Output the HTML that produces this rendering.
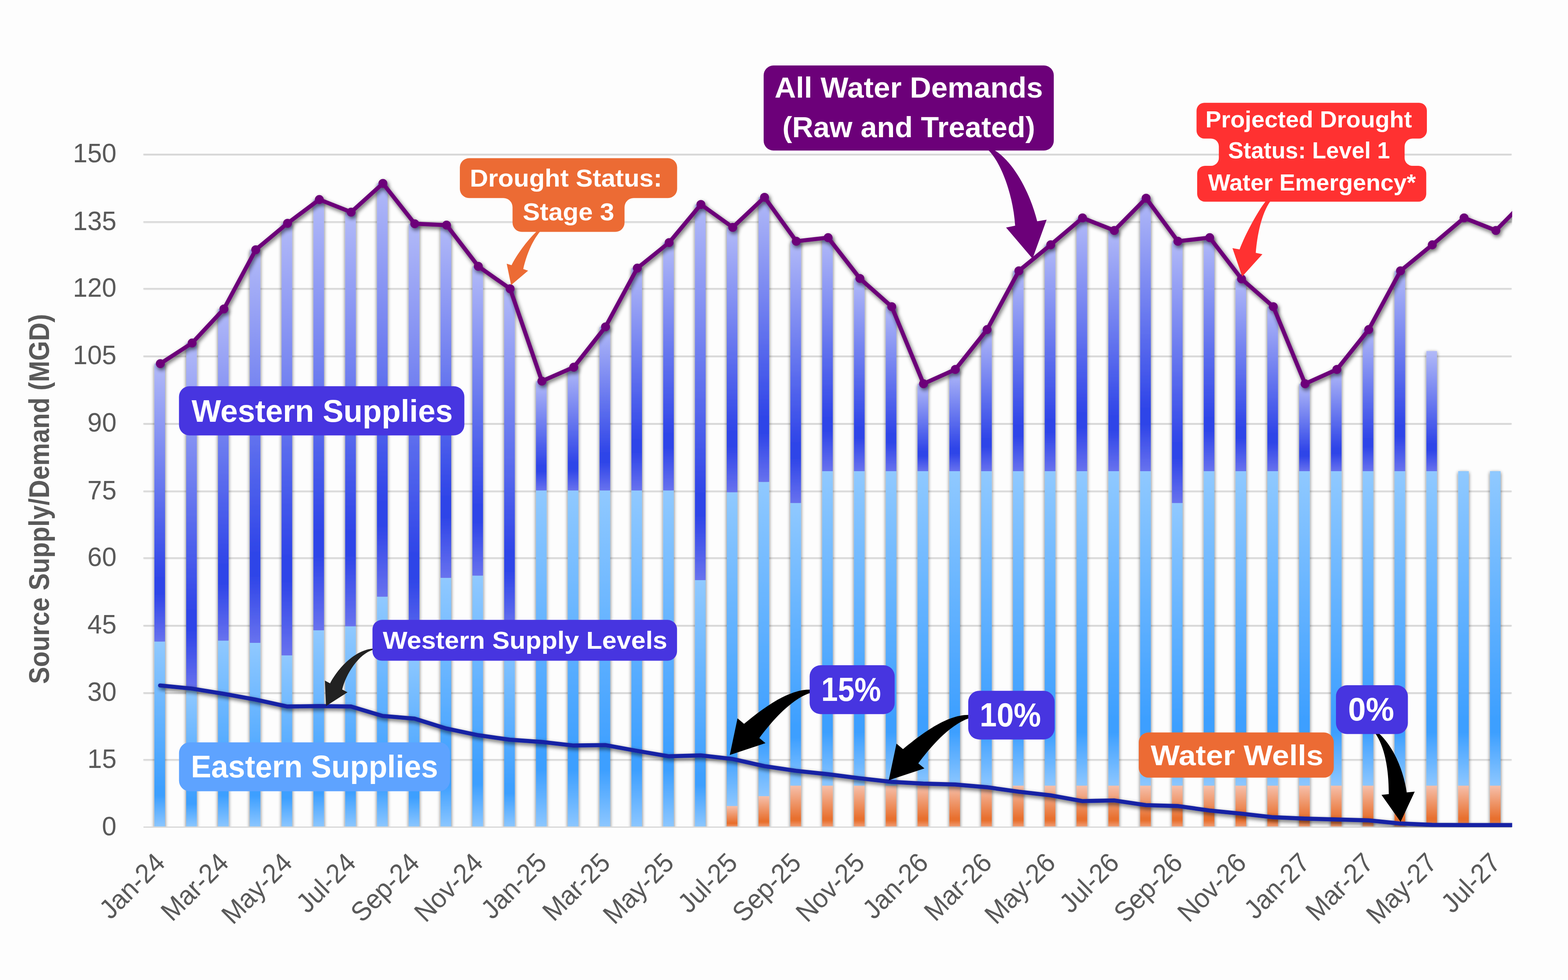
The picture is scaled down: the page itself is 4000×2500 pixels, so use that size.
<!DOCTYPE html>
<html lang="en"><head><meta charset="utf-8"><title>Source Supply/Demand (MGD)</title>
<style>html,body{margin:0;padding:0;background:#fdfdfd;}body{width:4000px;height:2500px;overflow:hidden;}svg{display:block;}text{font-family:"Liberation Sans",sans-serif;}.tk{font-size:66.67px;fill:#595959;}.lb{font-weight:bold;fill:#fff;}</style></head><body>
<svg xmlns="http://www.w3.org/2000/svg" width="4000" height="2500" viewBox="0 0 4000 2500">
<defs>
<linearGradient id="gw" x1="0" y1="0" x2="0" y2="1"><stop offset="0" stop-color="#b2baf8"/><stop offset="0.77" stop-color="#2f45e8"/><stop offset="0.83" stop-color="#2f45e8"/><stop offset="1" stop-color="#6872ee"/></linearGradient>
<linearGradient id="ge" x1="0" y1="0" x2="0" y2="1"><stop offset="0" stop-color="#90c9ff"/><stop offset="0.79" stop-color="#3d9fff"/><stop offset="0.83" stop-color="#3d9fff"/><stop offset="1" stop-color="#8dc7ff"/></linearGradient>
<linearGradient id="go" x1="0" y1="0" x2="0" y2="1"><stop offset="0" stop-color="#f6c0ab"/><stop offset="0.78" stop-color="#e8702f"/><stop offset="0.84" stop-color="#e8702f"/><stop offset="1" stop-color="#f0a07a"/></linearGradient>
<filter id="sb" x="-2%" y="-2%" width="104%" height="104%" filterUnits="objectBoundingBox"><feGaussianBlur in="SourceAlpha" stdDeviation="5"/><feOffset dx="0.2" dy="3"/><feComponentTransfer><feFuncA type="linear" slope="0.58"/></feComponentTransfer><feMerge><feMergeNode/><feMergeNode in="SourceGraphic"/></feMerge></filter>
<filter id="sl" x="-2%" y="-5%" width="104%" height="110%" filterUnits="objectBoundingBox"><feGaussianBlur in="SourceAlpha" stdDeviation="5.2"/><feOffset dx="2.5" dy="5"/><feComponentTransfer><feFuncA type="linear" slope="0.62"/></feComponentTransfer><feMerge><feMergeNode/><feMergeNode in="SourceGraphic"/></feMerge></filter>
<filter id="sg" x="-1%" y="-1%" width="102%" height="102%" filterUnits="objectBoundingBox"><feGaussianBlur in="SourceAlpha" stdDeviation="1"/><feOffset dx="0" dy="0.6"/><feComponentTransfer><feFuncA type="linear" slope="0.25"/></feComponentTransfer><feMerge><feMergeNode/><feMergeNode in="SourceGraphic"/></feMerge></filter>
<clipPath id="cp"><rect x="326" y="0" width="3531.6" height="2110.6"/></clipPath>
<clipPath id="cb"><rect x="300" y="0" width="3700" height="2108.7"/></clipPath>
</defs>
<rect width="4000" height="2500" fill="#fdfdfd"/>
<g stroke="#d7d7d7" stroke-width="2.8" filter="url(#sg)">
<line x1="366" y1="1937.9" x2="3856" y2="1937.9"/>
<line x1="366" y1="1767.4" x2="3856" y2="1767.4"/>
<line x1="366" y1="1595.6" x2="3856" y2="1595.6"/>
<line x1="366" y1="1423.1" x2="3856" y2="1423.1"/>
<line x1="366" y1="1252.8" x2="3856" y2="1252.8"/>
<line x1="366" y1="1080.6" x2="3856" y2="1080.6"/>
<line x1="366" y1="908.4" x2="3856" y2="908.4"/>
<line x1="366" y1="736.2" x2="3856" y2="736.2"/>
<line x1="366" y1="565.8" x2="3856" y2="565.8"/>
<line x1="366" y1="393.6" x2="3856" y2="393.6"/>
</g>
<g class="tk" text-anchor="end">
<text transform="translate(297.2 2130.7) scale(1 1.04)">0</text>
<text transform="translate(297.2 1958.7) scale(1 1.04)">15</text>
<text transform="translate(297.2 1788.2) scale(1 1.04)">30</text>
<text transform="translate(297.2 1616.4) scale(1 1.04)">45</text>
<text transform="translate(297.2 1443.9) scale(1 1.04)">60</text>
<text transform="translate(297.2 1273.6) scale(1 1.04)">75</text>
<text transform="translate(297.2 1101.4) scale(1 1.04)">90</text>
<text transform="translate(297.2 929.2) scale(1 1.04)">105</text>
<text transform="translate(297.2 757.0) scale(1 1.04)">120</text>
<text transform="translate(297.2 586.6) scale(1 1.04)">135</text>
<text transform="translate(297.2 414.4) scale(1 1.04)">150</text>
</g>
<text transform="translate(125.4 1744.8) rotate(-90) scale(0.9065 1)" font-size="71.8" font-weight="bold" fill="#595959" >Source Supply/Demand (MGD)</text>
<g clip-path="url(#cb)"><g filter="url(#sb)">
<rect x="393.9" y="2109.6" width="27.1" height="30" fill="#8dc7ff"/>
<rect x="393.9" y="1636.5" width="27.1" height="473.6" fill="url(#ge)"/>
<rect x="393.9" y="927.6" width="27.1" height="709.0" fill="url(#gw)"/>
<rect x="475.0" y="2109.6" width="27.1" height="30" fill="#8dc7ff"/>
<rect x="475.0" y="1760.0" width="27.1" height="350.1" fill="url(#ge)"/>
<rect x="475.0" y="875.0" width="27.1" height="885.1" fill="url(#gw)"/>
<rect x="556.1" y="2109.6" width="27.1" height="30" fill="#8dc7ff"/>
<rect x="556.1" y="1634.2" width="27.1" height="475.9" fill="url(#ge)"/>
<rect x="556.1" y="788.1" width="27.1" height="846.2" fill="url(#gw)"/>
<rect x="637.2" y="2109.6" width="27.1" height="30" fill="#8dc7ff"/>
<rect x="637.2" y="1640.0" width="27.1" height="470.1" fill="url(#ge)"/>
<rect x="637.2" y="637.1" width="27.1" height="1002.8" fill="url(#gw)"/>
<rect x="718.3" y="2109.6" width="27.1" height="30" fill="#8dc7ff"/>
<rect x="718.3" y="1672.0" width="27.1" height="438.1" fill="url(#ge)"/>
<rect x="718.3" y="569.6" width="27.1" height="1102.3" fill="url(#gw)"/>
<rect x="799.5" y="2109.6" width="27.1" height="30" fill="#8dc7ff"/>
<rect x="799.5" y="1607.9" width="27.1" height="502.2" fill="url(#ge)"/>
<rect x="799.5" y="509.0" width="27.1" height="1098.9" fill="url(#gw)"/>
<rect x="880.6" y="2109.6" width="27.1" height="30" fill="#8dc7ff"/>
<rect x="880.6" y="1597.7" width="27.1" height="512.4" fill="url(#ge)"/>
<rect x="880.6" y="541.1" width="27.1" height="1056.6" fill="url(#gw)"/>
<rect x="961.7" y="2109.6" width="27.1" height="30" fill="#8dc7ff"/>
<rect x="961.7" y="1522.2" width="27.1" height="587.9" fill="url(#ge)"/>
<rect x="961.7" y="467.9" width="27.1" height="1054.3" fill="url(#gw)"/>
<rect x="1042.8" y="2109.6" width="27.1" height="30" fill="#8dc7ff"/>
<rect x="1042.8" y="1662.8" width="27.1" height="447.3" fill="url(#ge)"/>
<rect x="1042.8" y="570.8" width="27.1" height="1092.0" fill="url(#gw)"/>
<rect x="1123.9" y="2109.6" width="27.1" height="30" fill="#8dc7ff"/>
<rect x="1123.9" y="1474.2" width="27.1" height="635.9" fill="url(#ge)"/>
<rect x="1123.9" y="574.2" width="27.1" height="899.9" fill="url(#gw)"/>
<rect x="1205.1" y="2109.6" width="27.1" height="30" fill="#8dc7ff"/>
<rect x="1205.1" y="1468.4" width="27.1" height="641.7" fill="url(#ge)"/>
<rect x="1205.1" y="679.4" width="27.1" height="789.0" fill="url(#gw)"/>
<rect x="1286.2" y="2109.6" width="27.1" height="30" fill="#8dc7ff"/>
<rect x="1286.2" y="1605.7" width="27.1" height="504.4" fill="url(#ge)"/>
<rect x="1286.2" y="736.6" width="27.1" height="869.1" fill="url(#gw)"/>
<rect x="1367.3" y="2109.6" width="27.1" height="30" fill="#8dc7ff"/>
<rect x="1367.3" y="1251.2" width="27.1" height="858.9" fill="url(#ge)"/>
<rect x="1367.3" y="972.2" width="27.1" height="279.0" fill="url(#gw)"/>
<rect x="1448.4" y="2109.6" width="27.1" height="30" fill="#8dc7ff"/>
<rect x="1448.4" y="1251.2" width="27.1" height="858.9" fill="url(#ge)"/>
<rect x="1448.4" y="936.7" width="27.1" height="314.5" fill="url(#gw)"/>
<rect x="1529.5" y="2109.6" width="27.1" height="30" fill="#8dc7ff"/>
<rect x="1529.5" y="1251.2" width="27.1" height="858.9" fill="url(#ge)"/>
<rect x="1529.5" y="833.8" width="27.1" height="417.4" fill="url(#gw)"/>
<rect x="1610.7" y="2109.6" width="27.1" height="30" fill="#8dc7ff"/>
<rect x="1610.7" y="1251.2" width="27.1" height="858.9" fill="url(#ge)"/>
<rect x="1610.7" y="684.0" width="27.1" height="567.2" fill="url(#gw)"/>
<rect x="1691.8" y="2109.6" width="27.1" height="30" fill="#8dc7ff"/>
<rect x="1691.8" y="1251.2" width="27.1" height="858.9" fill="url(#ge)"/>
<rect x="1691.8" y="618.8" width="27.1" height="632.4" fill="url(#gw)"/>
<rect x="1772.9" y="2109.6" width="27.1" height="30" fill="#8dc7ff"/>
<rect x="1772.9" y="1479.9" width="27.1" height="630.2" fill="url(#ge)"/>
<rect x="1772.9" y="521.6" width="27.1" height="958.3" fill="url(#gw)"/>
<rect x="1854.0" y="2109.6" width="27.1" height="30" fill="#f0a07a"/>
<rect x="1854.0" y="2056.2" width="27.1" height="53.9" fill="url(#go)"/>
<rect x="1854.0" y="1255.7" width="27.1" height="800.4" fill="url(#ge)"/>
<rect x="1854.0" y="579.9" width="27.1" height="675.8" fill="url(#gw)"/>
<rect x="1935.1" y="2109.6" width="27.1" height="30" fill="#f0a07a"/>
<rect x="1935.1" y="2031.0" width="27.1" height="79.1" fill="url(#go)"/>
<rect x="1935.1" y="1229.4" width="27.1" height="801.6" fill="url(#ge)"/>
<rect x="1935.1" y="503.3" width="27.1" height="726.1" fill="url(#gw)"/>
<rect x="2016.3" y="2109.6" width="27.1" height="30" fill="#f0a07a"/>
<rect x="2016.3" y="2004.2" width="27.1" height="105.9" fill="url(#go)"/>
<rect x="2016.3" y="1283.2" width="27.1" height="721.0" fill="url(#ge)"/>
<rect x="2016.3" y="615.4" width="27.1" height="667.8" fill="url(#gw)"/>
<rect x="2097.4" y="2109.6" width="27.1" height="30" fill="#f0a07a"/>
<rect x="2097.4" y="2004.2" width="27.1" height="105.9" fill="url(#go)"/>
<rect x="2097.4" y="1202.0" width="27.1" height="802.2" fill="url(#ge)"/>
<rect x="2097.4" y="606.2" width="27.1" height="595.8" fill="url(#gw)"/>
<rect x="2178.5" y="2109.6" width="27.1" height="30" fill="#f0a07a"/>
<rect x="2178.5" y="2004.2" width="27.1" height="105.9" fill="url(#go)"/>
<rect x="2178.5" y="1202.0" width="27.1" height="802.2" fill="url(#ge)"/>
<rect x="2178.5" y="710.3" width="27.1" height="491.7" fill="url(#gw)"/>
<rect x="2259.6" y="2109.6" width="27.1" height="30" fill="#f0a07a"/>
<rect x="2259.6" y="2004.2" width="27.1" height="105.9" fill="url(#go)"/>
<rect x="2259.6" y="1202.0" width="27.1" height="802.2" fill="url(#ge)"/>
<rect x="2259.6" y="782.3" width="27.1" height="419.7" fill="url(#gw)"/>
<rect x="2340.7" y="2109.6" width="27.1" height="30" fill="#f0a07a"/>
<rect x="2340.7" y="2004.2" width="27.1" height="105.9" fill="url(#go)"/>
<rect x="2340.7" y="1202.0" width="27.1" height="802.2" fill="url(#ge)"/>
<rect x="2340.7" y="979.0" width="27.1" height="223.0" fill="url(#gw)"/>
<rect x="2421.9" y="2109.6" width="27.1" height="30" fill="#f0a07a"/>
<rect x="2421.9" y="2004.2" width="27.1" height="105.9" fill="url(#go)"/>
<rect x="2421.9" y="1202.0" width="27.1" height="802.2" fill="url(#ge)"/>
<rect x="2421.9" y="942.4" width="27.1" height="259.6" fill="url(#gw)"/>
<rect x="2503.0" y="2109.6" width="27.1" height="30" fill="#f0a07a"/>
<rect x="2503.0" y="2004.2" width="27.1" height="105.9" fill="url(#go)"/>
<rect x="2503.0" y="1202.0" width="27.1" height="802.2" fill="url(#ge)"/>
<rect x="2503.0" y="840.7" width="27.1" height="361.3" fill="url(#gw)"/>
<rect x="2584.1" y="2109.6" width="27.1" height="30" fill="#f0a07a"/>
<rect x="2584.1" y="2004.2" width="27.1" height="105.9" fill="url(#go)"/>
<rect x="2584.1" y="1202.0" width="27.1" height="802.2" fill="url(#ge)"/>
<rect x="2584.1" y="690.9" width="27.1" height="511.1" fill="url(#gw)"/>
<rect x="2665.2" y="2109.6" width="27.1" height="30" fill="#f0a07a"/>
<rect x="2665.2" y="2004.2" width="27.1" height="105.9" fill="url(#go)"/>
<rect x="2665.2" y="1202.0" width="27.1" height="802.2" fill="url(#ge)"/>
<rect x="2665.2" y="624.5" width="27.1" height="577.5" fill="url(#gw)"/>
<rect x="2746.3" y="2109.6" width="27.1" height="30" fill="#f0a07a"/>
<rect x="2746.3" y="2004.2" width="27.1" height="105.9" fill="url(#go)"/>
<rect x="2746.3" y="1202.0" width="27.1" height="802.2" fill="url(#ge)"/>
<rect x="2746.3" y="555.9" width="27.1" height="646.1" fill="url(#gw)"/>
<rect x="2827.5" y="2109.6" width="27.1" height="30" fill="#f0a07a"/>
<rect x="2827.5" y="2004.2" width="27.1" height="105.9" fill="url(#go)"/>
<rect x="2827.5" y="1202.0" width="27.1" height="802.2" fill="url(#ge)"/>
<rect x="2827.5" y="587.9" width="27.1" height="614.1" fill="url(#gw)"/>
<rect x="2908.6" y="2109.6" width="27.1" height="30" fill="#f0a07a"/>
<rect x="2908.6" y="2004.2" width="27.1" height="105.9" fill="url(#go)"/>
<rect x="2908.6" y="1202.0" width="27.1" height="802.2" fill="url(#ge)"/>
<rect x="2908.6" y="505.6" width="27.1" height="696.4" fill="url(#gw)"/>
<rect x="2989.7" y="2109.6" width="27.1" height="30" fill="#f0a07a"/>
<rect x="2989.7" y="2004.2" width="27.1" height="105.9" fill="url(#go)"/>
<rect x="2989.7" y="1283.2" width="27.1" height="721.0" fill="url(#ge)"/>
<rect x="2989.7" y="615.4" width="27.1" height="667.8" fill="url(#gw)"/>
<rect x="3070.8" y="2109.6" width="27.1" height="30" fill="#f0a07a"/>
<rect x="3070.8" y="2004.2" width="27.1" height="105.9" fill="url(#go)"/>
<rect x="3070.8" y="1202.0" width="27.1" height="802.2" fill="url(#ge)"/>
<rect x="3070.8" y="606.2" width="27.1" height="595.8" fill="url(#gw)"/>
<rect x="3151.9" y="2109.6" width="27.1" height="30" fill="#f0a07a"/>
<rect x="3151.9" y="2004.2" width="27.1" height="105.9" fill="url(#go)"/>
<rect x="3151.9" y="1202.0" width="27.1" height="802.2" fill="url(#ge)"/>
<rect x="3151.9" y="711.4" width="27.1" height="490.6" fill="url(#gw)"/>
<rect x="3233.1" y="2109.6" width="27.1" height="30" fill="#f0a07a"/>
<rect x="3233.1" y="2004.2" width="27.1" height="105.9" fill="url(#go)"/>
<rect x="3233.1" y="1202.0" width="27.1" height="802.2" fill="url(#ge)"/>
<rect x="3233.1" y="782.3" width="27.1" height="419.7" fill="url(#gw)"/>
<rect x="3314.2" y="2109.6" width="27.1" height="30" fill="#f0a07a"/>
<rect x="3314.2" y="2004.2" width="27.1" height="105.9" fill="url(#go)"/>
<rect x="3314.2" y="1202.0" width="27.1" height="802.2" fill="url(#ge)"/>
<rect x="3314.2" y="979.0" width="27.1" height="223.0" fill="url(#gw)"/>
<rect x="3395.3" y="2109.6" width="27.1" height="30" fill="#f0a07a"/>
<rect x="3395.3" y="2004.2" width="27.1" height="105.9" fill="url(#go)"/>
<rect x="3395.3" y="1202.0" width="27.1" height="802.2" fill="url(#ge)"/>
<rect x="3395.3" y="942.4" width="27.1" height="259.6" fill="url(#gw)"/>
<rect x="3476.4" y="2109.6" width="27.1" height="30" fill="#f0a07a"/>
<rect x="3476.4" y="2004.2" width="27.1" height="105.9" fill="url(#go)"/>
<rect x="3476.4" y="1202.0" width="27.1" height="802.2" fill="url(#ge)"/>
<rect x="3476.4" y="840.7" width="27.1" height="361.3" fill="url(#gw)"/>
<rect x="3557.5" y="2109.6" width="27.1" height="30" fill="#f0a07a"/>
<rect x="3557.5" y="2004.2" width="27.1" height="105.9" fill="url(#go)"/>
<rect x="3557.5" y="1202.0" width="27.1" height="802.2" fill="url(#ge)"/>
<rect x="3557.5" y="690.9" width="27.1" height="511.1" fill="url(#gw)"/>
<rect x="3638.7" y="2109.6" width="27.1" height="30" fill="#f0a07a"/>
<rect x="3638.7" y="2004.2" width="27.1" height="105.9" fill="url(#go)"/>
<rect x="3638.7" y="1202.0" width="27.1" height="802.2" fill="url(#ge)"/>
<rect x="3638.7" y="895.5" width="27.1" height="306.5" fill="url(#gw)"/>
<rect x="3719.8" y="2109.6" width="27.1" height="30" fill="#f0a07a"/>
<rect x="3719.8" y="2004.2" width="27.1" height="105.9" fill="url(#go)"/>
<rect x="3719.8" y="1202.0" width="27.1" height="802.2" fill="url(#ge)"/>
<rect x="3800.9" y="2109.6" width="27.1" height="30" fill="#f0a07a"/>
<rect x="3800.9" y="2004.2" width="27.1" height="105.9" fill="url(#go)"/>
<rect x="3800.9" y="1202.0" width="27.1" height="802.2" fill="url(#ge)"/>
</g></g>
<line x1="366" y1="2110.1" x2="3856" y2="2110.1" stroke="#d6d6d6" stroke-width="3"/>
<g class="tk" text-anchor="end">
<text transform="translate(425.0 2205.4) rotate(-45) scale(0.99 1.04)">Jan-24</text>
<text transform="translate(587.2 2205.4) rotate(-45) scale(0.99 1.04)">Mar-24</text>
<text transform="translate(749.5 2205.4) rotate(-45) scale(0.99 1.04)">May-24</text>
<text transform="translate(911.7 2205.4) rotate(-45) scale(0.99 1.04)">Jul-24</text>
<text transform="translate(1074.0 2205.4) rotate(-45) scale(0.99 1.04)">Sep-24</text>
<text transform="translate(1236.2 2205.4) rotate(-45) scale(0.99 1.04)">Nov-24</text>
<text transform="translate(1398.4 2205.4) rotate(-45) scale(0.99 1.04)">Jan-25</text>
<text transform="translate(1560.7 2205.4) rotate(-45) scale(0.99 1.04)">Mar-25</text>
<text transform="translate(1722.9 2205.4) rotate(-45) scale(0.99 1.04)">May-25</text>
<text transform="translate(1885.2 2205.4) rotate(-45) scale(0.99 1.04)">Jul-25</text>
<text transform="translate(2047.4 2205.4) rotate(-45) scale(0.99 1.04)">Sep-25</text>
<text transform="translate(2209.6 2205.4) rotate(-45) scale(0.99 1.04)">Nov-25</text>
<text transform="translate(2371.9 2205.4) rotate(-45) scale(0.99 1.04)">Jan-26</text>
<text transform="translate(2534.1 2205.4) rotate(-45) scale(0.99 1.04)">Mar-26</text>
<text transform="translate(2696.4 2205.4) rotate(-45) scale(0.99 1.04)">May-26</text>
<text transform="translate(2858.6 2205.4) rotate(-45) scale(0.99 1.04)">Jul-26</text>
<text transform="translate(3020.8 2205.4) rotate(-45) scale(0.99 1.04)">Sep-26</text>
<text transform="translate(3183.1 2205.4) rotate(-45) scale(0.99 1.04)">Nov-26</text>
<text transform="translate(3345.3 2205.4) rotate(-45) scale(0.99 1.04)">Jan-27</text>
<text transform="translate(3507.6 2205.4) rotate(-45) scale(0.99 1.04)">Mar-27</text>
<text transform="translate(3669.8 2205.4) rotate(-45) scale(0.99 1.04)">May-27</text>
<text transform="translate(3832.0 2205.4) rotate(-45) scale(0.99 1.04)">Jul-27</text>
</g>
<g clip-path="url(#cp)"><g filter="url(#sl)">
<polyline points="409.0,927.6 490.1,875.0 571.2,788.1 652.4,637.1 733.5,569.6 814.6,509.0 895.7,541.1 976.8,467.9 1058.0,570.8 1139.1,574.2 1220.2,679.4 1301.3,736.6 1382.4,972.2 1463.6,936.7 1544.7,833.8 1625.8,684.0 1706.9,618.8 1788.0,521.6 1869.2,579.9 1950.3,503.3 2031.4,615.4 2112.5,606.2 2193.6,710.3 2274.8,782.3 2355.9,979.0 2437.0,942.4 2518.1,840.7 2599.2,690.9 2680.4,624.5 2761.5,555.9 2842.6,587.9 2923.7,505.6 3004.8,615.4 3086.0,606.2 3167.1,711.4 3248.2,782.3 3329.3,979.0 3410.4,942.4 3491.6,840.7 3572.7,690.9 3653.8,624.5 3734.9,555.9 3816.0,587.9 3897.2,505.6" fill="none" stroke="#6c0079" stroke-width="10.4" stroke-linejoin="round" stroke-linecap="round"/>
<g fill="#6c0079">
<circle cx="409.0" cy="927.6" r="11.4"/>
<circle cx="490.1" cy="875.0" r="11.4"/>
<circle cx="571.2" cy="788.1" r="11.4"/>
<circle cx="652.4" cy="637.1" r="11.4"/>
<circle cx="733.5" cy="569.6" r="11.4"/>
<circle cx="814.6" cy="509.0" r="11.4"/>
<circle cx="895.7" cy="541.1" r="11.4"/>
<circle cx="976.8" cy="467.9" r="11.4"/>
<circle cx="1058.0" cy="570.8" r="11.4"/>
<circle cx="1139.1" cy="574.2" r="11.4"/>
<circle cx="1220.2" cy="679.4" r="11.4"/>
<circle cx="1301.3" cy="736.6" r="11.4"/>
<circle cx="1382.4" cy="972.2" r="11.4"/>
<circle cx="1463.6" cy="936.7" r="11.4"/>
<circle cx="1544.7" cy="833.8" r="11.4"/>
<circle cx="1625.8" cy="684.0" r="11.4"/>
<circle cx="1706.9" cy="618.8" r="11.4"/>
<circle cx="1788.0" cy="521.6" r="11.4"/>
<circle cx="1869.2" cy="579.9" r="11.4"/>
<circle cx="1950.3" cy="503.3" r="11.4"/>
<circle cx="2031.4" cy="615.4" r="11.4"/>
<circle cx="2112.5" cy="606.2" r="11.4"/>
<circle cx="2193.6" cy="710.3" r="11.4"/>
<circle cx="2274.8" cy="782.3" r="11.4"/>
<circle cx="2355.9" cy="979.0" r="11.4"/>
<circle cx="2437.0" cy="942.4" r="11.4"/>
<circle cx="2518.1" cy="840.7" r="11.4"/>
<circle cx="2599.2" cy="690.9" r="11.4"/>
<circle cx="2680.4" cy="624.5" r="11.4"/>
<circle cx="2761.5" cy="555.9" r="11.4"/>
<circle cx="2842.6" cy="587.9" r="11.4"/>
<circle cx="2923.7" cy="505.6" r="11.4"/>
<circle cx="3004.8" cy="615.4" r="11.4"/>
<circle cx="3086.0" cy="606.2" r="11.4"/>
<circle cx="3167.1" cy="711.4" r="11.4"/>
<circle cx="3248.2" cy="782.3" r="11.4"/>
<circle cx="3329.3" cy="979.0" r="11.4"/>
<circle cx="3410.4" cy="942.4" r="11.4"/>
<circle cx="3491.6" cy="840.7" r="11.4"/>
<circle cx="3572.7" cy="690.9" r="11.4"/>
<circle cx="3653.8" cy="624.5" r="11.4"/>
<circle cx="3734.9" cy="555.9" r="11.4"/>
<circle cx="3816.0" cy="587.9" r="11.4"/>
</g></g>
<g filter="url(#sl)"><polyline points="408.4,1748.6 489.5,1756.6 570.6,1769.8 651.8,1784.6 732.9,1802.3 814.0,1801.2 895.1,1802.3 976.2,1826.4 1057.4,1833.2 1138.5,1858.4 1219.6,1875.5 1300.7,1887.0 1381.8,1892.7 1463.0,1901.8 1544.1,1900.7 1625.2,1915.5 1706.3,1929.3 1787.4,1927.0 1868.6,1936.1 1949.7,1954.4 2030.8,1966.4 2111.9,1975.0 2193.0,1985.3 2274.2,1994.5 2355.3,1999.0 2436.4,2001.3 2517.5,2008.2 2598.6,2019.6 2679.8,2028.8 2760.9,2043.6 2842.0,2041.9 2923.1,2053.9 3004.2,2056.2 3085.4,2067.6 3166.5,2075.6 3247.6,2084.8 3328.7,2088.2 3409.8,2090.5 3491.0,2092.8 3572.1,2100.8 3653.2,2104.2 3734.3,2104.8 3815.4,2104.8 3896.6,2104.8" fill="none" stroke="#1420a4" stroke-width="10.4" stroke-linejoin="miter" stroke-linecap="round"/></g>
</g>
<path d="M1369.5 590.0 C1350.0 608.0 1322.0 643.0 1305.0 676.4 L1292.6 672.7 L1303.8 727.2 L1347.2 690.5 L1334.8 686.3 C1342.0 655.0 1355.0 618.0 1378.2 590.0 Z" fill="#ec6b34"/>
<path d="M2520.2 382.0 C2555.0 415.0 2585.0 500.0 2589.6 575.8 L2566.5 580.5 L2634.0 659.7 L2670.0 560.6 L2645.9 564.6 C2630.0 500.0 2590.0 415.0 2535.1 382.0 Z" fill="#6c0079"/>
<path d="M3229.0 513.0 C3208.0 540.0 3178.0 595.0 3162.2 636.2 L3144.0 632.9 L3168.8 705.6 L3220.4 648.4 L3203.5 645.1 C3207.0 600.0 3218.0 545.0 3240.9 513.0 Z" fill="#ff3131"/>
<path d="M952.0 1654.5 C905.0 1658.0 862.0 1705.0 842.0 1743.3 L828.8 1736.3 L831.7 1801.2 L886.6 1766.0 L873.0 1759.0 C882.0 1720.0 915.0 1668.0 952.0 1657.5 Z" fill="#222222"/>
<path d="M2067.0 1759.3 C2010.0 1758.0 1945.0 1808.0 1898.1 1846.6 L1881.4 1832.5 L1861.7 1925.9 L1952.8 1895.7 L1937.1 1882.7 C1965.0 1845.0 2015.0 1785.0 2067.0 1767.4 Z" fill="#000000"/>
<path d="M2472.5 1823.8 C2415.5 1822.5 2350.5 1872.5 2303.6 1911.1 L2286.9 1897.0 L2267.2 1990.4 L2358.3 1960.2 L2342.6 1947.2 C2370.5 1909.5 2420.5 1849.5 2472.5 1831.9 Z" fill="#000000"/>
<path d="M3508.5 1871.0 C3532.0 1905.0 3543.0 1960.0 3542.8 2025.8 L3524.2 2027.7 L3572.9 2096.5 L3609.0 2019.5 L3588.5 2021.4 C3582.0 1975.0 3560.0 1910.0 3517.8 1871.0 Z" fill="#000000"/>
<rect x="456.6" y="985.2" width="728.0" height="125.6" rx="27" ry="27" fill="#4735e0"/>
<text class="lb" x="488.7" y="1075.9" font-size="79.5" textLength="666.2" lengthAdjust="spacingAndGlyphs">Western Supplies</text>
<rect x="456.7" y="1893.8" width="691.0" height="124.6" rx="27" ry="27" fill="#5ea3ff"/>
<text class="lb" x="486.9" y="1982.8" font-size="79.5" textLength="630.6" lengthAdjust="spacingAndGlyphs">Eastern Supplies</text>
<rect x="950.2" y="1581.3" width="776.9" height="104.2" rx="24" ry="24" fill="#4735e0"/>
<text class="lb" x="976.5" y="1655.0" font-size="63" textLength="725.8" lengthAdjust="spacingAndGlyphs">Western Supply Levels</text>
<rect x="2065.4" y="1697.1" width="216.9" height="124.6" rx="28" ry="28" fill="#4735e0"/>
<text class="lb" x="2095.1" y="1787.8" font-size="85" textLength="152.4" lengthAdjust="spacingAndGlyphs">15%</text>
<rect x="2470.0" y="1762.2" width="220.2" height="124.2" rx="28" ry="28" fill="#4735e0"/>
<text class="lb" x="2499.2" y="1853.0" font-size="85" textLength="156.4" lengthAdjust="spacingAndGlyphs">10%</text>
<rect x="3408.1" y="1748.0" width="183.4" height="124.6" rx="28" ry="28" fill="#4735e0"/>
<text class="lb" x="3439.1" y="1838.3" font-size="82.6" textLength="117.4" lengthAdjust="spacingAndGlyphs">0%</text>
<rect x="2905.0" y="1868.5" width="497.5" height="115.3" rx="25" ry="25" fill="#ec6b34"/>
<text class="lb" x="2935.5" y="1952.0" font-size="73" textLength="440.4" lengthAdjust="spacingAndGlyphs">Water Wells</text>
<path d="M1703.9 403.6 A23.5 23.5 0 0 1 1727.4 427.1 L1727.4 481.7 A23.5 23.5 0 0 1 1703.9 505.2 L1616.7 505.2 A23.5 23.5 0 0 0 1593.2 528.7 L1593.2 568.1 A23.5 23.5 0 0 1 1569.7 591.6 L1331.0 591.6 A23.5 23.5 0 0 1 1307.5 568.1 L1307.5 528.7 A23.5 23.5 0 0 0 1284.0 505.2 L1196.6 505.2 A23.5 23.5 0 0 1 1173.1 481.7 L1173.1 427.1 A23.5 23.5 0 0 1 1196.6 403.6 Z" fill="#ec6b34"/>
<text class="lb" x="1198.5" y="476.2" font-size="63.5" textLength="490.3" lengthAdjust="spacingAndGlyphs">Drought Status:</text>
<text class="lb" x="1333.5" y="562.3" font-size="63.5" textLength="233.5" lengthAdjust="spacingAndGlyphs">Stage 3</text>
<rect x="1948.1" y="167.1" width="740.1" height="216.9" rx="25" ry="25" fill="#6c0079"/>
<text class="lb" x="1975.9" y="248.5" font-size="74" textLength="684.6" lengthAdjust="spacingAndGlyphs">All Water Demands</text>
<text class="lb" x="1995.7" y="350.0" font-size="74" textLength="645.0" lengthAdjust="spacingAndGlyphs">(Raw and Treated)</text>
<path d="M3620.0 262.2 A20 20 0 0 1 3640.0 282.2 L3640.0 333.4 A20 20 0 0 1 3620.0 353.4 L3603.2 353.4 A20 20 0 0 0 3583.2 373.4 L3583.2 402.9 A20 20 0 0 0 3603.2 422.9 L3618.4 422.9 A20 20 0 0 1 3638.4 442.9 L3638.4 494.5 A20 20 0 0 1 3618.4 514.5 L3074.0 514.5 A20 20 0 0 1 3054.0 494.5 L3054.0 442.9 A20 20 0 0 1 3074.0 422.9 L3089.3 422.9 A20 20 0 0 0 3109.3 402.9 L3109.3 373.4 A20 20 0 0 0 3089.3 353.4 L3072.4 353.4 A20 20 0 0 1 3052.4 333.4 L3052.4 282.2 A20 20 0 0 1 3072.4 262.2 Z" fill="#ff3131"/>
<text class="lb" x="3074.9" y="325.0" font-size="59" textLength="526.9" lengthAdjust="spacingAndGlyphs">Projected Drought</text>
<text class="lb" x="3132.9" y="404.4" font-size="59" textLength="412.8" lengthAdjust="spacingAndGlyphs">Status: Level 1</text>
<text class="lb" x="3081.7" y="486.4" font-size="59" textLength="530.4" lengthAdjust="spacingAndGlyphs">Water Emergency*</text>
</svg></body></html>
